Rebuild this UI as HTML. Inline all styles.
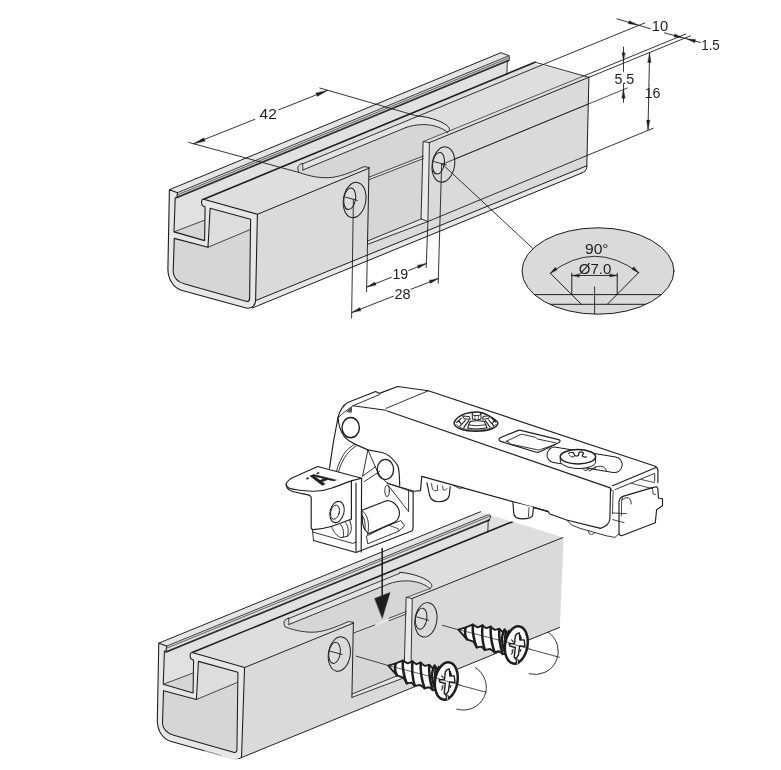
<!DOCTYPE html>
<html><head><meta charset="utf-8"><title>Hinge mounting</title>
<style>
html,body{margin:0;padding:0;background:#fff;}
body{width:781px;height:770px;overflow:hidden;font-family:"Liberation Sans",sans-serif;}
svg{display:block;filter:grayscale(1);}
text{font-family:"Liberation Sans",sans-serif;fill:#1d1d1b;}
</style></head><body>
<svg width="781" height="770" viewBox="0 0 781 770" stroke-linecap="round" stroke-linejoin="round">
<rect width="781" height="770" fill="#fff"/>
<g id="top">
<polygon points="169.4,189.7 500.9,52.7 509,55.7 177.5,192.7" fill="#e4e5e6" stroke="none" stroke-width="1" />
<polygon points="177.5,192.7 509,55.7 508.4,60.5 506.7,60.8 175.2,197.8 176.9,197.5" fill="#d9dadb" stroke="none" stroke-width="1" />
<polygon points="175.2,197.8 506.7,60.8 506.9,74.4 201.8,200.5 202.3,205.6 205.1,207 204.6,240.6 174,231.9" fill="#e0e1e2" stroke="none" stroke-width="1" />
<polygon points="174,231.9 204.8,220.1 204.6,240.6" fill="#d5d6d7" stroke="none" stroke-width="1" />
<polygon points="201.8,200.5 533.3,63.5 588.9,77.3 257.4,214.3" fill="#dddedf" stroke="none" stroke-width="1" />
<polygon points="257.4,214.3 588.9,77.3 586.8,167.1 585.5,170.6 581.8,173 259,305.3 255.6,300.6" fill="#d9dadb" stroke="none" stroke-width="1" />
<polygon points="255.8,300.5 586.8,165.8 585.5,170.6 581.8,173 259,305.3" fill="#e6e7e8" stroke="none" stroke-width="1" />
<path d="M299.1,172.5 C310,176.5 322,178.6 332,177.4 C343,176 354,171 364,166.6 L368.8,167.4 L367.5,241 L421.4,218.9 L423.5,141.5 L447.5,132.4 C449.8,131 450,129 448.6,127.2 C445,122.6 432,117 416.4,115.8 L302.3,163.4 C299.5,164 297.4,166.6 297.8,168.6 C298,170.4 298.4,171.6 299.1,172.5 Z" fill="#d5d6d7" stroke="none" stroke-width="1" />
<path d="M302.6,163.4 L416.4,115.8 C432,117 445,122.6 448.6,127.2 C450,129 449.8,131 447.5,132.4 C444,128.6 434,124.6 424,124.6 C416,124.6 410,126 406,127.5 L303,169.9 Z" fill="#e2e3e4" stroke="none" stroke-width="1" />
<polygon points="369.4,177 423.4,156 423.3,158.6 369.4,179.5" fill="#e4e5e6" stroke="none" stroke-width="1" />
<polygon points="367.5,241 421.4,218.9 427.9,221.5 367.5,244.4" fill="#e4e5e6" stroke="none" stroke-width="1" />
<polygon points="423.5,141.5 429.4,142.8 427.9,221.5 421.4,218.9" fill="#e8e9ea" stroke="#1d1d1b" stroke-width="0.9" />
<line x1="169.4" y1="189.7" x2="500.9" y2="52.7" stroke="#1d1d1b" stroke-width="1.0" />
<line x1="177.5" y1="192.7" x2="509" y2="55.7" stroke="#2a2a2a" stroke-width="0.9" />
<line x1="177.3" y1="194.9" x2="508.8" y2="57.9" stroke="#444" stroke-width="0.8" />
<line x1="176.9" y1="197.5" x2="508.4" y2="60.5" stroke="#1d1d1b" stroke-width="1.7" />
<line x1="175.2" y1="197.8" x2="506.7" y2="60.8" stroke="#555" stroke-width="0.6" />
<path d="M500.9,52.7 L509,55.7 L509.6,59.6 L507.3,62.2 L506.9,74.4" fill="none" stroke="#1d1d1b" stroke-width="0.9" />
<line x1="203.6" y1="199.2" x2="535.1" y2="62.2" stroke="#1d1d1b" stroke-width="1.6" />
<line x1="302.3" y1="164" x2="540.7" y2="65.5" stroke="#1d1d1b" stroke-width="0.9" />
<line x1="303" y1="169.9" x2="406" y2="127.5" stroke="#1d1d1b" stroke-width="0.9" />
<line x1="302.7" y1="163.6" x2="302.9" y2="170.2" stroke="#1d1d1b" stroke-width="0.8" />
<line x1="535.1" y1="62.2" x2="588.9" y2="77.3" stroke="#1d1d1b" stroke-width="0.9" />
<path d="M302.3,163.4 C299.5,164 297.4,166.6 297.8,168.6 C298,170.4 298.4,171.6 299.1,172.5 C310,176.5 322,178.6 332,177.4 C343,176 354,171 364,166.6 L368.8,167.4" fill="none" stroke="#1d1d1b" stroke-width="0.9" />
<path d="M416.4,115.8 C432,117 445,122.6 448.6,127.2 C450,129 449.8,131 447.5,132.4" fill="none" stroke="#1d1d1b" stroke-width="1.0" />
<path d="M406,127.5 C410,126 416,124.6 424,124.6 C434,124.6 444,128.6 447.5,132.4" fill="none" stroke="#1d1d1b" stroke-width="0.9" />
<line x1="257.4" y1="214.3" x2="369" y2="168.2" stroke="#1d1d1b" stroke-width="1.0" />
<line x1="429.4" y1="142.6" x2="588.9" y2="77.3" stroke="#1d1d1b" stroke-width="1.0" />
<line x1="423.5" y1="141.5" x2="585.6" y2="75.2" stroke="#333" stroke-width="0.8" />
<line x1="442.4" y1="164.2" x2="588" y2="104.1" stroke="#1d1d1b" stroke-width="0.7" />
<line x1="427.9" y1="221.5" x2="586.8" y2="155.6" stroke="#1d1d1b" stroke-width="0.9" />
<line x1="255.8" y1="300.5" x2="586.8" y2="165.8" stroke="#1d1d1b" stroke-width="1.0" />
<line x1="252.3" y1="308" x2="581.8" y2="173" stroke="#1d1d1b" stroke-width="1.0" />
<path d="M588.9,77.30000000000001 L586.8,167.1 C586.6,170 584.6,172.2 581.8,173" fill="none" stroke="#1d1d1b" stroke-width="1.0" />
<line x1="369" y1="167.5" x2="367.5" y2="244.4" stroke="#1d1d1b" stroke-width="1.0" />
<line x1="367.5" y1="241" x2="421.4" y2="218.9" stroke="#1d1d1b" stroke-width="0.9" />
<line x1="367.5" y1="244.4" x2="427.9" y2="221.5" stroke="#1d1d1b" stroke-width="0.9" />
<line x1="369.4" y1="177" x2="423.4" y2="156" stroke="#1d1d1b" stroke-width="0.8" />
<line x1="369.4" y1="179.5" x2="423.3" y2="158.6" stroke="#1d1d1b" stroke-width="0.8" />
<ellipse cx="354.6" cy="200" rx="11.2" ry="17.8" transform="rotate(9 354.6 200)" fill="#d9dadb" stroke="#1d1d1b" stroke-width="1"/>
<ellipse cx="349.7" cy="198.8" rx="5.8" ry="10.9" transform="rotate(9 349.7 198.8)" fill="#dcddde" stroke="#1d1d1b" stroke-width="1"/>
<line x1="345.2" y1="197.1" x2="357.5" y2="200.4" stroke="#1d1d1b" stroke-width="0.9" />
<ellipse cx="443.4" cy="164.5" rx="11.2" ry="17.8" transform="rotate(9 443.4 164.5)" fill="#d9dadb" stroke="#1d1d1b" stroke-width="1"/>
<ellipse cx="438.5" cy="163.3" rx="5.8" ry="10.9" transform="rotate(9 438.5 163.3)" fill="#dcddde" stroke="#1d1d1b" stroke-width="1"/>
<line x1="434" y1="161.6" x2="446.3" y2="164.9" stroke="#1d1d1b" stroke-width="0.9" />
<path d="M174.3,238.4 L208.0,247.3 L210.1,208.2 L250.6,219.2 L249.6,298.6 Q249.4,301.6 246.9,301.5 L184.8,284.0 C178.4,282.2 173.6,278 173.2,271.8 Z" fill="#d5d6d7" stroke="none" stroke-width="1" />
<polygon points="210.1,208.2 250.6,219.2 250.4,229.5 208,247.3" fill="#dcddde" stroke="none" stroke-width="1" />
<line x1="208" y1="247.3" x2="250.4" y2="229.5" stroke="#1d1d1b" stroke-width="0.8" />
<line x1="174" y1="231.9" x2="204.8" y2="220.1" stroke="#1d1d1b" stroke-width="0.8" />
<path d="M169.4,189.7 L177.5,192.7 L176.9,197.5 L175.2,197.8 L174.0,231.9 L204.6,240.6 L205.1,207.0 L202.3,205.6 C201.6,203.8 201.2,201.8 201.8,200.5 Q202.4,199 203.6,199.2 L257.4,214.3 L255.6,300.6 C255.6,305 252.4,308.6 247.1,308.3 L182.2,290.5 C173,288 168,279 167.9,269.0 Z M174.3,238.4 L208.0,247.3 L210.1,208.2 L250.6,219.2 L249.6,298.6 Q249.4,301.6 246.9,301.5 L184.8,284.0 C178.4,282.2 173.6,278 173.2,271.8 Z" fill="#e6e7e8" stroke="#1d1d1b" stroke-width="1.1" fill-rule="evenodd"/>
<line x1="188.7" y1="142.4" x2="299.1" y2="172.5" stroke="#1d1d1b" stroke-width="0.9" />
<line x1="319.8" y1="88" x2="416.4" y2="115.8" stroke="#1d1d1b" stroke-width="0.9" />
<line x1="193.7" y1="143.7" x2="254.9" y2="119.3" stroke="#1d1d1b" stroke-width="0.9" />
<line x1="278.8" y1="109.8" x2="327.3" y2="90.5" stroke="#1d1d1b" stroke-width="0.9" />
<polygon points="193.7,143.7 203.7,137.8 205.1,141.1" fill="#1d1d1b" stroke="#1d1d1b" stroke-width="0.3" />
<polygon points="327.3,90.5 317.3,96.4 315.9,93.1" fill="#1d1d1b" stroke="#1d1d1b" stroke-width="0.3" />
<text x="268.2" y="118.8" font-size="15.3" text-anchor="middle" textLength="17.2" lengthAdjust="spacingAndGlyphs" >42</text>
<line x1="540.7" y1="65.5" x2="644.8" y2="22.9" stroke="#1d1d1b" stroke-width="0.9" />
<line x1="585.6" y1="75.2" x2="685.7" y2="34" stroke="#1d1d1b" stroke-width="0.9" />
<line x1="588.9" y1="77.3" x2="690.5" y2="35.8" stroke="#1d1d1b" stroke-width="0.9" />
<line x1="617" y1="18.8" x2="650.2" y2="28.7" stroke="#1d1d1b" stroke-width="0.9" />
<polygon points="637.8,25 628.2,23.8 629.2,20.8" fill="#1d1d1b" stroke="#1d1d1b" stroke-width="0.3" />
<line x1="664.5" y1="32.8" x2="700.4" y2="42.5" stroke="#1d1d1b" stroke-width="0.9" />
<polygon points="682.6,37.7 674,37 674.8,33.9" fill="#1d1d1b" stroke="#1d1d1b" stroke-width="0.3" />
<polygon points="687,38.9 695.6,39.6 694.8,42.7" fill="#1d1d1b" stroke="#1d1d1b" stroke-width="0.3" />
<text x="659.9" y="30.9" font-size="15.2" text-anchor="middle" textLength="16.4" lengthAdjust="spacingAndGlyphs" >10</text>
<text x="710.5" y="50.2" font-size="15.2" text-anchor="middle" textLength="18.6" lengthAdjust="spacingAndGlyphs" >1.5</text>
<line x1="442.4" y1="164.2" x2="627.3" y2="88" stroke="#1d1d1b" stroke-width="0.8" />
<line x1="623.5" y1="47.1" x2="623.5" y2="71.4" stroke="#1d1d1b" stroke-width="0.9" />
<polygon points="623.5,60.8 621.9,52.8 625.1,52.8" fill="#1d1d1b" stroke="#1d1d1b" stroke-width="0.3" />
<line x1="623.5" y1="84" x2="623.5" y2="102.3" stroke="#1d1d1b" stroke-width="0.9" />
<polygon points="623.5,88.7 625.1,98.2 621.9,98.2" fill="#1d1d1b" stroke="#1d1d1b" stroke-width="0.3" />
<text x="624.3" y="83.6" font-size="15.2" text-anchor="middle" textLength="19.8" lengthAdjust="spacingAndGlyphs" >5.5</text>
<line x1="586.8" y1="155.6" x2="653.1" y2="128.3" stroke="#1d1d1b" stroke-width="0.9" />
<line x1="649.6" y1="53" x2="648" y2="129.6" stroke="#1d1d1b" stroke-width="0.9" />
<polygon points="649.6,53 651,62.5 647.8,62.5" fill="#1d1d1b" stroke="#1d1d1b" stroke-width="0.3" />
<polygon points="648,129.6 646.6,120.1 649.8,120.1" fill="#1d1d1b" stroke="#1d1d1b" stroke-width="0.3" />
<rect x="644" y="86" width="17" height="13" fill="#fff"/>
<line x1="649" y1="86" x2="648.6" y2="99" stroke="#1d1d1b" stroke-width="0.9" />
<text x="652.6" y="97.9" font-size="15.2" text-anchor="middle" textLength="15.8" lengthAdjust="spacingAndGlyphs" >16</text>
<line x1="353.4" y1="199.7" x2="351.6" y2="318.2" stroke="#1d1d1b" stroke-width="0.9" />
<line x1="367.5" y1="244.4" x2="366.6" y2="291.6" stroke="#1d1d1b" stroke-width="0.9" />
<line x1="427.9" y1="221.5" x2="426.2" y2="267.4" stroke="#1d1d1b" stroke-width="0.9" />
<line x1="441.6" y1="164.2" x2="438.2" y2="283.3" stroke="#1d1d1b" stroke-width="0.9" />
<line x1="367" y1="286.9" x2="391.4" y2="277.3" stroke="#1d1d1b" stroke-width="0.9" />
<line x1="408.6" y1="270.5" x2="426.2" y2="263.6" stroke="#1d1d1b" stroke-width="0.9" />
<polygon points="367,286.9 374.8,282.1 376,285.1" fill="#1d1d1b" stroke="#1d1d1b" stroke-width="0.3" />
<polygon points="426.2,263.6 418.4,268.4 417.2,265.4" fill="#1d1d1b" stroke="#1d1d1b" stroke-width="0.3" />
<text x="400.3" y="279.2" font-size="15.2" text-anchor="middle" textLength="15.8" lengthAdjust="spacingAndGlyphs" >19</text>
<line x1="352" y1="312.4" x2="393.4" y2="296.2" stroke="#1d1d1b" stroke-width="0.9" />
<line x1="411" y1="289.3" x2="438.2" y2="278.6" stroke="#1d1d1b" stroke-width="0.9" />
<polygon points="352,312.4 359.8,307.6 361,310.6" fill="#1d1d1b" stroke="#1d1d1b" stroke-width="0.3" />
<polygon points="438.2,278.6 430.4,283.4 429.2,280.4" fill="#1d1d1b" stroke="#1d1d1b" stroke-width="0.3" />
<text x="402.6" y="299.2" font-size="15.2" text-anchor="middle" textLength="16.2" lengthAdjust="spacingAndGlyphs" >28</text>
<line x1="442.4" y1="164.2" x2="533.4" y2="249" stroke="#1d1d1b" stroke-width="0.9" />
<ellipse cx="598" cy="271" rx="76" ry="43.2" fill="#d9dadb" stroke="#1d1d1b" stroke-width="1"/>
<clipPath id="cpe"><ellipse cx="598" cy="271" rx="76" ry="43.2"/></clipPath>
<g clip-path="url(#cpe)">
<line x1="520" y1="294.6" x2="680" y2="294.6" stroke="#1d1d1b" stroke-width="1.0" />
<line x1="520" y1="304.3" x2="680" y2="304.3" stroke="#1d1d1b" stroke-width="1.0" />
<line x1="594.6" y1="287" x2="594.6" y2="316" stroke="#1d1d1b" stroke-width="0.9" />
</g>
<line x1="550.3" y1="273.2" x2="581.4" y2="304.3" stroke="#1d1d1b" stroke-width="1.0" />
<line x1="638.6" y1="272.7" x2="607.3" y2="304.3" stroke="#1d1d1b" stroke-width="1.0" />
<line x1="571.8" y1="273.2" x2="571.8" y2="294.6" stroke="#1d1d1b" stroke-width="1.0" />
<line x1="617.2" y1="273.2" x2="617.2" y2="294.6" stroke="#1d1d1b" stroke-width="1.0" />
<line x1="571.8" y1="275.5" x2="617.2" y2="275.5" stroke="#1d1d1b" stroke-width="0.9" />
<polygon points="571.8,275.5 579.3,274 579.3,277" fill="#1d1d1b" stroke="#1d1d1b" stroke-width="0.3" />
<polygon points="617.2,275.5 609.7,277 609.7,274" fill="#1d1d1b" stroke="#1d1d1b" stroke-width="0.3" />
<path d="M550.3,273.2 Q594.4,239.4 638.6,272.7" fill="none" stroke="#1d1d1b" stroke-width="0.9" />
<polygon points="550.3,273.2 555.2,267.3 557.1,269.7" fill="#1d1d1b" stroke="#1d1d1b" stroke-width="0.3" />
<polygon points="638.6,272.7 631.8,269.2 633.7,266.8" fill="#1d1d1b" stroke="#1d1d1b" stroke-width="0.3" />
<text x="596.8" y="253.8" font-size="15.2" text-anchor="middle" textLength="23.6" lengthAdjust="spacingAndGlyphs" >90°</text>
<text x="595" y="273.9" font-size="15.2" text-anchor="middle" textLength="32.6" lengthAdjust="spacingAndGlyphs" >Ø7.0</text>
</g>
<clipPath id="cpb"><polygon points="130,340 130,100 499,40 499.8,53.5 584.6,79.4 580.8,171.9 574,340"/></clipPath>
<g id="bottom" transform="translate(-6.4,458.6) scale(0.975) matrix(1,0.0048,0,1,0,-1.2355)"><g clip-path="url(#cpb)">
<polygon points="169.4,189.7 520.8,44.5 528.9,47.5 177.5,192.7" fill="#e4e5e6" stroke="none" stroke-width="1" />
<polygon points="177.5,192.7 528.9,47.5 528.3,52.3 526.6,52.6 175.2,197.8 176.9,197.5" fill="#d9dadb" stroke="none" stroke-width="1" />
<polygon points="175.2,197.8 526.6,52.6 553.2,55.3 201.8,200.5 202.3,205.6 205.1,207 204.6,240.6 174,231.9" fill="#e0e1e2" stroke="none" stroke-width="1" />
<polygon points="174,231.9 204.8,220.1 204.6,240.6" fill="#d5d6d7" stroke="none" stroke-width="1" />
<polygon points="201.8,200.5 553.2,55.3 608.8,69.1 257.4,214.3" fill="#dddedf" stroke="none" stroke-width="1" />
<polygon points="257.4,214.3 608.8,69.1 606,161.1 254.2,306.7" fill="#d9dadb" stroke="none" stroke-width="1" />
<path d="M299.1,172.5 C310,176.5 322,178.6 332,177.4 C343,176 354,171 364,166.6 L368.8,167.4 L367.5,241 L421.4,218.9 L423.5,141.5 L447.5,132.4 C449.8,131 450,129 448.6,127.2 C445,122.6 432,117 416.4,115.8 L302.3,163.4 C299.5,164 297.4,166.6 297.8,168.6 C298,170.4 298.4,171.6 299.1,172.5 Z" fill="#d5d6d7" stroke="none" stroke-width="1" />
<path d="M302.6,163.4 L416.4,115.8 C432,117 445,122.6 448.6,127.2 C450,129 449.8,131 447.5,132.4 C444,128.6 434,124.6 424,124.6 C416,124.6 410,126 406,127.5 L303,169.9 Z" fill="#e2e3e4" stroke="none" stroke-width="1" />
<polygon points="369.4,177 423.4,156 423.3,158.6 369.4,179.5" fill="#e4e5e6" stroke="none" stroke-width="1" />
<polygon points="367.5,241 421.4,218.9 427.9,221.5 367.5,244.4" fill="#e4e5e6" stroke="none" stroke-width="1" />
<polygon points="423.5,141.5 429.4,142.8 427.9,221.5 421.4,218.9" fill="#e8e9ea" stroke="#1d1d1b" stroke-width="0.9" />
<line x1="169.4" y1="189.7" x2="500.9" y2="52.7" stroke="#1d1d1b" stroke-width="1.0" />
<line x1="177.5" y1="192.7" x2="509" y2="55.7" stroke="#2a2a2a" stroke-width="0.9" />
<line x1="177.3" y1="194.9" x2="508.8" y2="57.9" stroke="#444" stroke-width="0.8" />
<line x1="176.9" y1="198.7" x2="508.4" y2="61.7" stroke="#1d1d1b" stroke-width="1.7" />
<line x1="175.2" y1="199" x2="506.7" y2="62" stroke="#555" stroke-width="0.6" />
<path d="M500.9,52.7 L509,55.7 L509.6,59.6 L507.3,62.2 L506.9,74.4" fill="none" stroke="#1d1d1b" stroke-width="0.9" />
<line x1="203.6" y1="199.2" x2="535.1" y2="62.2" stroke="#1d1d1b" stroke-width="1.6" />
<line x1="302.3" y1="164" x2="416.4" y2="116.9" stroke="#1d1d1b" stroke-width="0.9" />
<line x1="303" y1="169.9" x2="406" y2="127.5" stroke="#1d1d1b" stroke-width="0.9" />
<line x1="302.7" y1="163.6" x2="302.9" y2="170.2" stroke="#1d1d1b" stroke-width="0.8" />
<path d="M302.3,163.4 C299.5,164 297.4,166.6 297.8,168.6 C298,170.4 298.4,171.6 299.1,172.5 C310,176.5 322,178.6 332,177.4 C343,176 354,171 364,166.6 L368.8,167.4" fill="none" stroke="#1d1d1b" stroke-width="0.9" />
<path d="M416.4,115.8 C432,117 445,122.6 448.6,127.2 C450,129 449.8,131 447.5,132.4" fill="none" stroke="#1d1d1b" stroke-width="1.0" />
<path d="M406,127.5 C410,126 416,124.6 424,124.6 C434,124.6 444,128.6 447.5,132.4" fill="none" stroke="#1d1d1b" stroke-width="0.9" />
<line x1="257.4" y1="214.3" x2="369" y2="168.2" stroke="#1d1d1b" stroke-width="1.0" />
<line x1="429.4" y1="142.6" x2="588.9" y2="77.3" stroke="#1d1d1b" stroke-width="1.0" />
<line x1="423.5" y1="141.5" x2="447.5" y2="132.4" stroke="#333" stroke-width="0.8" />
<line x1="254.2" y1="306.7" x2="584" y2="170.1" stroke="#1d1d1b" stroke-width="1.0" />
<line x1="369" y1="167.5" x2="367.5" y2="244.4" stroke="#1d1d1b" stroke-width="1.0" />
<line x1="367.5" y1="241" x2="421.4" y2="218.9" stroke="#1d1d1b" stroke-width="0.9" />
<line x1="367.5" y1="244.4" x2="427.9" y2="221.5" stroke="#1d1d1b" stroke-width="0.9" />
<line x1="369.6" y1="178.2" x2="391" y2="170" stroke="#1d1d1b" stroke-width="0.9" />
<line x1="405.6" y1="163" x2="423.4" y2="156" stroke="#1d1d1b" stroke-width="0.8" />
<line x1="405.6" y1="165.6" x2="423.3" y2="158.6" stroke="#1d1d1b" stroke-width="0.8" />
<ellipse cx="354.6" cy="200" rx="11.2" ry="17.8" transform="rotate(9 354.6 200)" fill="#d9dadb" stroke="#1d1d1b" stroke-width="1"/>
<ellipse cx="349.7" cy="198.8" rx="5.8" ry="10.9" transform="rotate(9 349.7 198.8)" fill="#dcddde" stroke="#1d1d1b" stroke-width="1"/>
<line x1="345.2" y1="197.1" x2="357.5" y2="200.4" stroke="#1d1d1b" stroke-width="0.9" />
<ellipse cx="443.4" cy="164.5" rx="11.2" ry="17.8" transform="rotate(9 443.4 164.5)" fill="#d9dadb" stroke="#1d1d1b" stroke-width="1"/>
<ellipse cx="438.5" cy="163.3" rx="5.8" ry="10.9" transform="rotate(9 438.5 163.3)" fill="#dcddde" stroke="#1d1d1b" stroke-width="1"/>
<line x1="434" y1="161.6" x2="446.3" y2="164.9" stroke="#1d1d1b" stroke-width="0.9" />
<path d="M174.3,238.4 L208.0,247.3 L210.1,208.2 L250.6,219.2 L249.6,298.6 Q249.4,301.6 246.9,301.5 L184.8,284.0 C178.4,282.2 173.6,278 173.2,271.8 Z" fill="#d5d6d7" stroke="none" stroke-width="1" />
<polygon points="210.1,208.2 250.6,219.2 250.4,229.5 208,247.3" fill="#dcddde" stroke="none" stroke-width="1" />
<line x1="208" y1="247.3" x2="250.4" y2="229.5" stroke="#1d1d1b" stroke-width="0.8" />
<line x1="174" y1="231.9" x2="204.8" y2="220.1" stroke="#1d1d1b" stroke-width="0.8" />
<path d="M169.4,189.7 L177.5,192.7 L176.9,197.5 L175.2,197.8 L174.0,231.9 L204.6,240.6 L205.1,207.0 L202.3,205.6 C201.6,203.8 201.2,201.8 201.8,200.5 Q202.4,199 203.6,199.2 L257.4,214.3 L254.3,305.6 C254.2,307.4 251.5,308.4 247.1,308.3 L182.2,290.5 C173,288 168,279 167.9,269.0 Z M174.3,238.4 L208.0,247.3 L210.1,208.2 L250.6,219.2 L249.6,298.6 Q249.4,301.6 246.9,301.5 L184.8,284.0 C178.4,282.2 173.6,278 173.2,271.8 Z" fill="#e6e7e8" stroke="#1d1d1b" stroke-width="1.1" fill-rule="evenodd"/>
</g></g>
<line x1="205" y1="751.6" x2="240.5" y2="760.6" stroke="#fff" stroke-width="2.2" opacity="0.55"/>
<line x1="222" y1="756" x2="241.5" y2="760.9" stroke="#fff" stroke-width="2.4" opacity="0.6"/>
<polygon points="329.5,468.1 333.4,442.1 338,417.5 341.9,408.4 347.7,402.5 375.6,391.5 379.5,393.4 397.6,386.5 428.3,390.8 655.3,466.2 657.9,470.8 657.9,498 662.5,498.7 662.5,505.8 656.6,509.7 655.3,522.7 621.6,535.7 612.5,537 589,534 576.6,527.5 568.5,520.4 547.9,511.4 530,506 421.8,476.4 420.5,490.6 413.1,492.1 413.1,527.1 411.8,531 356,552.5 313.5,540.5 311.2,527.5 311.2,497.7 306,494.4 290.4,490.5 286.5,482.7 293,477.5 317.7,466.5" fill="#fff" stroke="none" stroke-width="1" />
<path d="M338,417.5 Q339.5,411.8 341.9,408.4 Q344.4,404.4 347.7,402.5 L375.6,391.5 L379.5,393.4 L397.6,386.5 L428.3,390.8 L655.3,466.2 Q657.9,467.6 657.9,470.8 L657.9,482.5" fill="none" stroke="#1d1d1b" stroke-width="1.15" />
<path d="M339.3,416.8 Q342,413.4 345.8,411 L352.9,405.8 L379.5,394.6" fill="none" stroke="#1d1d1b" stroke-width="0.9" />
<path d="M352.9,405.8 L386,410.3 M387.3,411 L609.5,487.6 Q612,488.6 610.6,491.5" fill="none" stroke="#1d1d1b" stroke-width="1.15" />
<line x1="386" y1="408.4" x2="428.3" y2="390.8" stroke="#1d1d1b" stroke-width="0.9" />
<polygon points="347,411.6 351.6,407.6 351.4,412" fill="#555" stroke="#1d1d1b" stroke-width="0.6" />
<path d="M610.5,489 L609.9,518.8 Q609.4,525.6 600.5,528.4 L566.6,520 L550,514 L548.3,511.6 L530,506.4" fill="none" stroke="#1d1d1b" stroke-width="1.15" />
<path d="M613.1,490.4 L612.5,513.6" fill="none" stroke="#1d1d1b" stroke-width="0.8" />
<path d="M612.5,485.7 L656,467.5" fill="none" stroke="#1d1d1b" stroke-width="1.15" />
<path d="M615.1,489.6 L654.7,473.4 L654.7,481.2" fill="none" stroke="#1d1d1b" stroke-width="0.9" />
<path d="M388,483.5 L414,491.3 L420.5,490.6 L421.8,476.4 L547.9,511.4" fill="none" stroke="#1d1d1b" stroke-width="1.15" />
<path d="M566.6,520 L571.6,525 L579.9,528.3 L606.5,535.8 L614.8,537.4 L619.8,533.3" fill="none" stroke="#1d1d1b" stroke-width="0.9" />
<path d="M588.2,531.4 Q588.4,534.4 591.4,534.5 Q594.4,534.4 594.9,532.8" fill="none" stroke="#1d1d1b" stroke-width="0.8" />
<path d="M619,502 Q619.4,497.6 622.9,496.4 L652.4,487.6 L656.8,486.8 L657.9,489 L658.4,498 L662.5,498.7 L662.5,505.8 L656.6,509.7 L655.3,522.7 L621.6,535.7 Q619,535.6 619,533.1 Z" fill="#fff" stroke="#1d1d1b" stroke-width="1.15" />
<path d="M622.9,496.4 L621.6,500 L621.4,516" fill="none" stroke="#1d1d1b" stroke-width="0.8" />
<path d="M622.5,499.5 Q627.4,496 630,499.2 Q631.6,501.6 631.2,504" fill="none" stroke="#1d1d1b" stroke-width="0.9" />
<path d="M612.6,513.0 L626.4,513.6 M612.6,519.6 L624,522.6" fill="none" stroke="#1d1d1b" stroke-width="0.8" />
<path d="M652.4,487.6 L653.2,494 L655.6,494.6" fill="none" stroke="#1d1d1b" stroke-width="0.8" />
<path d="M631.6,483.4 L652.4,488.6 M641,479.4 L654.4,482.6" fill="none" stroke="#1d1d1b" stroke-width="0.8" />
<path d="M426.9,482.9 L429.6,495.5 Q431.5,501.7 438.5,501.7 Q447.6,501.6 449.3,495.5 L450.2,486.5" fill="#fff" stroke="#1d1d1b" stroke-width="1.15" />
<path d="M431.4,483.6 L432.6,489.4 Q434.5,491.6 437.6,490.6 L437.4,485.2 M442.6,486 L443.2,490 Q446,491 447,488.4" fill="none" stroke="#1d1d1b" stroke-width="0.8" />
<path d="M512.9,502.6 L513.8,513.4 Q514.4,518.8 521.9,518.8 Q531.6,518.8 532.6,515.5 L533.5,507.1" fill="#fff" stroke="#1d1d1b" stroke-width="1.15" />
<line x1="529" y1="507.6" x2="528.4" y2="516.8" stroke="#1d1d1b" stroke-width="0.8" />
<path d="M454,485.6 L459.6,488.6 L463.4,487.6" fill="none" stroke="#1d1d1b" stroke-width="0.8" />
<path d="M454,423 C455.5,419 460,415.5 465.3,413.7 C469,412.5 473,412 476,412 C480,412 484,413 487.3,415 C492,417.5 496.8,420 497.9,423 C497.5,428 488,431.2 476,431.2 C464,431.2 454.5,428 454,423 Z" fill="#fff" stroke="#1d1d1b" stroke-width="1.4" />
<path d="M456,424.4 C459,428.4 467,430 476,430 C485,430 493.6,428.4 496.2,424.2" fill="none" stroke="#1d1d1b" stroke-width="0.7" />
<path d="M472.2,414.2 L472.4,419.2 Q476.4,420.8 481,419.2 L481,414.2" fill="#fff" stroke="#1d1d1b" stroke-width="1.0" />
<ellipse cx="476.5" cy="413.9" rx="4.4" ry="1.7" fill="#fff" stroke="#1d1d1b" stroke-width="1.0"/>
<line x1="475" y1="415.8" x2="475" y2="419.6" stroke="#1d1d1b" stroke-width="0.7" />
<line x1="478.4" y1="415.8" x2="478.4" y2="419.6" stroke="#1d1d1b" stroke-width="0.7" />
<path d="M470,421.6 Q477,420 484.3,421.4 L487,427.8 Q477.4,430 467.6,428 Z" fill="#fff" stroke="#1d1d1b" stroke-width="1.1" />
<path d="M468.8,425 Q477.2,426.6 485.8,424.8" fill="none" stroke="#1d1d1b" stroke-width="0.9" />
<path d="M463,416 L469.4,416.6 L470.2,419.4 L464.4,418.8 Z" fill="#fff" stroke="#1d1d1b" stroke-width="1.0" />
<path d="M489,415.8 L483,416.4 L482.6,419.2 L488.4,418.6 Z" fill="#fff" stroke="#1d1d1b" stroke-width="1.0" />
<path d="M468.8,420.6 L463.8,427.6 M465.4,420.4 L459.8,426.2 M461.4,418.2 L456.6,422.4 M458.8,420.4 L460.6,423.4" fill="none" stroke="#1d1d1b" stroke-width="1.1" />
<path d="M485.4,420.6 L490,427.2 M488.6,420 L493.6,425.6 M491.4,417.8 L495.6,422 M494.2,420.4 L492.6,423.2" fill="none" stroke="#1d1d1b" stroke-width="1.1" />
<path d="M500.2,437.8 L517.6,430.6 Q519.6,429.8 521.8,430.6 L558.6,439.6 Q561.4,440.8 559,442.4 L540.6,451.6 Q538.2,452.8 535.4,452 L500.6,441.4 Q497.6,439.6 500.2,437.8 Z" fill="none" stroke="#1d1d1b" stroke-width="1.15" />
<path d="M506.4,441.2 L520.4,434.6 Q521.8,434 523.6,434.6 L535.6,437.4 L537.4,439 L555.6,442.8 Q557.2,443.6 555.6,444.4 L540.4,449.6 Q538.4,450.4 536.4,449.6 L509.2,443.8 L508.8,442.4 Z" fill="none" stroke="#1d1d1b" stroke-width="0.9" />
<rect x="546.6" y="452" width="76" height="15.6" rx="7.8" ry="7.8" transform="rotate(9.4 584.6 459.8)" fill="#fff" stroke="#1d1d1b" stroke-width="1"/>
<path d="M591,469.4 Q598,464.6 603.6,467 Q606.6,468.4 606.4,470.8" fill="none" stroke="#1d1d1b" stroke-width="0.9" />
<path d="M560.2,458.6 L560.4,462.4 Q566,468.6 580,468.6 Q594,467.6 595.6,462.6 L595.6,458.6" fill="#fff" stroke="#1d1d1b" stroke-width="1.0" />
<path d="M583,468.6 L585,470.8 L588.2,469.4 L589.6,471.2 L592.4,469 L594.6,469.6 L595.6,466.6" fill="none" stroke="#1d1d1b" stroke-width="0.9" />
<ellipse cx="577.9" cy="456.8" rx="17.7" ry="7.2" fill="#fff" stroke="#1d1d1b" stroke-width="1.5"/>
<path d="M568.6,453.6 Q570.2,451.6 573.4,452.6 L574.6,455.2 Q576.6,456.8 578.6,455.2 L579,452.6 Q581.6,451 583.6,453.2 L582.2,455.8 Q583.6,457.6 586.4,456.8" fill="none" stroke="#1d1d1b" stroke-width="1.2" />
<path d="M569.6,455.6 Q571.4,457.8 574,456.8" fill="none" stroke="#1d1d1b" stroke-width="1.0" />
<path d="M338,417.5 C338.4,424 340,431 344.5,436.9 C348,441 351,442.5 354.9,444.1 L367.9,449.9 L382.1,452.5 C388,454 393,458 397.7,465.5 C399.6,470 399.6,480 399.7,485.5" fill="none" stroke="#1d1d1b" stroke-width="1.15" />
<ellipse cx="350.7" cy="427.6" rx="8.7" ry="10.1" fill="#fff" stroke="#1d1d1b" stroke-width="1.4"/>
<ellipse cx="385.4" cy="469.5" rx="8.2" ry="10.1" fill="#fff" stroke="#1d1d1b" stroke-width="1.3"/>
<path d="M338,417.5 L333.4,442.1 L329.5,468.1" fill="none" stroke="#1d1d1b" stroke-width="1.15" />
<path d="M354.2,444.7 C348,448 344,453 341.9,457.7 C339,463 337.5,467 336.7,470.7" fill="none" stroke="#1d1d1b" stroke-width="0.9" />
<path d="M356,446 C350,450 346,455 343.8,459 C341,464 339.6,468 338.7,471.3" fill="none" stroke="#1d1d1b" stroke-width="0.9" />
<path d="M367.9,449.9 L362.6,476.2 M367.9,449.9 L377.4,471.4 M362.8,476 L375.8,466.6 M364.4,481.6 L379.6,471.4" fill="none" stroke="#1d1d1b" stroke-width="0.9" />
<path d="M377.4,471.4 C380,476 383,480 388,483.5" fill="none" stroke="#1d1d1b" stroke-width="0.9" />
<path d="M361.6,478.3 L361.2,552.0 M356,483 L356,551.6" fill="none" stroke="#1d1d1b" stroke-width="1.15" />
<path d="M313.5,540.5 L356,552.5 L411.8,531 Q413.1,530 413.1,527.1 L413.1,492.1" fill="none" stroke="#1d1d1b" stroke-width="1.15" />
<path d="M387.1,483 L413.1,492.1" fill="none" stroke="#1d1d1b" stroke-width="0.9" />
<path d="M388.4,485.6 L408.6,511.6 L408.6,490.8" fill="none" stroke="#1d1d1b" stroke-width="0.9" />
<ellipse cx="387.1" cy="490.8" rx="2.3" ry="5.8" fill="none" stroke="#1d1d1b" stroke-width="0.9"/>
<path d="M367.7,543.4 L366.4,536.2 L384.5,527.1 L400.8,520.6 L404.7,525.8 L398.8,531 Z" fill="#fff" stroke="#1d1d1b" stroke-width="0.9" />
<path d="M384.5,527.1 L388,525 L398,528.6 L398.6,531" fill="none" stroke="#1d1d1b" stroke-width="0.8" />
<path d="M361.8,510.3 L387.1,500.5 C392,500.4 397.4,504.4 399.2,510.8 C400,516 398.4,519.6 395,522 L369,533.6 C366,532 363.4,528 362.6,523 Z" fill="#fff" stroke="#1d1d1b" stroke-width="1.15" />
<path d="M361.8,510.6 C365.4,512.6 368,518 368.4,524 C368.6,528.4 368.4,531.6 367.4,534.6" fill="none" stroke="#1d1d1b" stroke-width="0.9" />
<path d="M362.4,515.6 C364.6,518.4 365.6,523.6 365,529" fill="none" stroke="#1d1d1b" stroke-width="0.9" />
<path d="M317.7,466.5 L361.8,478.2 L352,480.6 C345,483 338,486 332,488 C325,490.6 318,491.4 312.5,491.2 C303,490.8 294,490 289,488 C286.2,486.6 285.6,484.4 286.5,482.7 C287.8,480.4 290,478.8 293,477.5 Z" fill="#fff" stroke="#1d1d1b" stroke-width="1.15" />
<path d="M286.2,484.6 C286.6,487.6 288.4,489.6 290.4,490.5 C296,492.8 301,493.4 306,494.4 C309.4,495 311.2,496 311.2,497.7 L311.2,527.5 Q311.4,529.6 313.4,529.6 C320,529 326,528 332,526.2 C338.6,524.2 345,521.6 351.4,519.1 L351.4,480.8" fill="none" stroke="#1d1d1b" stroke-width="1.15" />
<path d="M312.5,530.1 L313.5,540.5 M312.5,532 L352.7,543.4 L356,542" fill="none" stroke="#1d1d1b" stroke-width="0.9" />
<ellipse cx="337.0" cy="512.0" rx="6.9" ry="10.8" transform="rotate(14 337 512)" fill="#fff" stroke="#1d1d1b" stroke-width="1.0"/>
<ellipse cx="335.0" cy="512.2" rx="4.3" ry="7.2" transform="rotate(14 335 512.2)" fill="#fff" stroke="#1d1d1b" stroke-width="0.9"/>
<path d="M331.6,527.0 C333.6,532 337,536.4 341,537.6 L347,536.4 C350.6,534.6 352,530 351,525 L349.6,520" fill="none" stroke="#1d1d1b" stroke-width="0.9" />
<path d="M340.6,524.4 C343,527 344.4,532.6 343.2,537.2 M345.6,522.6 C348.4,526 349,532 347.2,536.2" fill="none" stroke="#1d1d1b" stroke-width="0.9" />
<text transform="matrix(0.986,-0.361,1.158,0.493,321.6,485.4)" font-size="22" font-weight="bold" text-anchor="start" x="0" y="0" stroke="#1d1d1b" stroke-width="0.5">A</text>
<polygon points="306.2,478.4 308,477.4 309,478.2 307.2,479.2" fill="#1d1d1b" stroke="#1d1d1b" stroke-width="0.5" />
<polygon points="316.6,473.2 318.4,472.2 319.4,473 317.6,474" fill="#1d1d1b" stroke="#1d1d1b" stroke-width="0.5" />
<line x1="382.2" y1="548.4" x2="382.2" y2="596" stroke="#1d1d1b" stroke-width="1.5" />
<polygon points="374.8,598.4 390,592.6 382.3,618" fill="#1d1d1b" stroke="#1d1d1b" stroke-width="0.5" />
<line x1="442.4" y1="625.3" x2="458.7" y2="629.8" stroke="#1d1d1b" stroke-width="0.8" />
<line x1="529" y1="649" x2="559.6" y2="657.3" stroke="#1d1d1b" stroke-width="0.8" />
<line x1="356.1" y1="656.1" x2="388.6" y2="665.6" stroke="#1d1d1b" stroke-width="0.8" />
<line x1="459" y1="685" x2="486" y2="692.2" stroke="#1d1d1b" stroke-width="0.8" />
<path d="M548.3,632.3 A23.2,23.2 0 0 1 529.1,673.8" fill="none" stroke="#1d1d1b" stroke-width="0.9" />
<path d="M475.3,667.6 A22.9,22.9 0 0 1 456.8,709.1" fill="none" stroke="#1d1d1b" stroke-width="0.9" />
<g><polygon points="458.3,629.6 465,627.6 472.7,624.7 477.6,627.4 482.5,625.5 486.4,628.2 490.6,626.7 494.9,629.9 499.2,628.9 502.6,632 505.8,631.2 508,634 508.5,654.5 502.7,653.9 499.2,651.2 494.6,652.2 490.2,649 484.8,649.9 481.4,646.6 476.8,647.4 473.4,641.6 467,639.3" fill="#fff" stroke="#1d1d1b" stroke-width="1.9" />
<path d="M465.6,628 Q463.9,634.2 467,639.3" fill="none" stroke="#1d1d1b" stroke-width="2.5" />
<path d="M472.7,624.7 Q472.4,636.6 476.8,647.4" fill="none" stroke="#1d1d1b" stroke-width="2.5" />
<path d="M482.5,625.5 Q481.2,638.3 484.8,649.9" fill="none" stroke="#1d1d1b" stroke-width="2.5" />
<path d="M490.6,626.7 Q490.2,640.1 494.6,652.2" fill="none" stroke="#1d1d1b" stroke-width="2.5" />
<path d="M499.2,628.9 Q498.6,642 502.7,653.9" fill="none" stroke="#1d1d1b" stroke-width="2.5" />
<path d="M505.8,631.2 Q504.2,642.2 507.4,652" fill="none" stroke="#1d1d1b" stroke-width="2.5" />
<line x1="458.3" y1="629.6" x2="506" y2="641.9" stroke="#1d1d1b" stroke-width="0.7" />
<path d="M504.7,629.4 C502.6,633.6 501.8,637.6 502.1,640.4 C502.4,644.4 503,647.6 504.1,650.2" fill="none" stroke="#1d1d1b" stroke-width="2.4" />
<path d="M508.6,630.6 C506.8,635 506.4,641 506.8,645 C507.2,649 507.8,651.6 508.8,653.6" fill="none" stroke="#1d1d1b" stroke-width="1.6" />
<ellipse cx="516.3" cy="645" rx="11.2" ry="18.8" transform="rotate(9.5 516.3 645)" fill="#fff" stroke="#1d1d1b" stroke-width="2.5"/>
<polygon points="516.7,633.9 519.2,632.8 519.9,639.6 524.2,640 525,646.4 519.6,646 518.5,654.9 516,658.9 514.2,657.1 515.3,647.5 509.9,646 509.2,643.7 514.5,643.5 515.3,636" fill="#fff" stroke="#1d1d1b" stroke-width="1.4" />
<line x1="520.4" y1="635.3" x2="521" y2="640.5" stroke="#1d1d1b" stroke-width="1.1" />
<line x1="511.6" y1="639.8" x2="513.3" y2="641.8" stroke="#1d1d1b" stroke-width="1.1" />
<line x1="521" y1="649.5" x2="520.1" y2="651.5" stroke="#1d1d1b" stroke-width="1.1" />
<line x1="511.6" y1="654.1" x2="512.9" y2="651.5" stroke="#1d1d1b" stroke-width="1.1" />
<line x1="521.5" y1="637.6" x2="519.9" y2="640" stroke="#1d1d1b" stroke-width="1.1" />
<line x1="513.3" y1="649.4" x2="511.9" y2="651" stroke="#1d1d1b" stroke-width="1.1" />
<polygon points="515.7,660.4 517.9,659.8 518.9,664.6 516.7,665.2" fill="#fff" stroke="none" stroke-width="1" />
<line x1="515.8" y1="658.2" x2="517" y2="664.4" stroke="#1d1d1b" stroke-width="1.2" />
<line x1="517.9" y1="659.4" x2="518.9" y2="663.4" stroke="#1d1d1b" stroke-width="1.2" /></g>
<g transform="translate(-70,36)"><polygon points="458.3,629.6 465,627.6 472.7,624.7 477.6,627.4 482.5,625.5 486.4,628.2 490.6,626.7 494.9,629.9 499.2,628.9 502.6,632 505.8,631.2 508,634 508.5,654.5 502.7,653.9 499.2,651.2 494.6,652.2 490.2,649 484.8,649.9 481.4,646.6 476.8,647.4 473.4,641.6 467,639.3" fill="#fff" stroke="#1d1d1b" stroke-width="1.9" />
<path d="M465.6,628 Q463.9,634.2 467,639.3" fill="none" stroke="#1d1d1b" stroke-width="2.5" />
<path d="M472.7,624.7 Q472.4,636.6 476.8,647.4" fill="none" stroke="#1d1d1b" stroke-width="2.5" />
<path d="M482.5,625.5 Q481.2,638.3 484.8,649.9" fill="none" stroke="#1d1d1b" stroke-width="2.5" />
<path d="M490.6,626.7 Q490.2,640.1 494.6,652.2" fill="none" stroke="#1d1d1b" stroke-width="2.5" />
<path d="M499.2,628.9 Q498.6,642 502.7,653.9" fill="none" stroke="#1d1d1b" stroke-width="2.5" />
<path d="M505.8,631.2 Q504.2,642.2 507.4,652" fill="none" stroke="#1d1d1b" stroke-width="2.5" />
<line x1="458.3" y1="629.6" x2="506" y2="641.9" stroke="#1d1d1b" stroke-width="0.7" />
<path d="M504.7,629.4 C502.6,633.6 501.8,637.6 502.1,640.4 C502.4,644.4 503,647.6 504.1,650.2" fill="none" stroke="#1d1d1b" stroke-width="2.4" />
<path d="M508.6,630.6 C506.8,635 506.4,641 506.8,645 C507.2,649 507.8,651.6 508.8,653.6" fill="none" stroke="#1d1d1b" stroke-width="1.6" />
<ellipse cx="516.3" cy="645" rx="11.2" ry="18.8" transform="rotate(9.5 516.3 645)" fill="#fff" stroke="#1d1d1b" stroke-width="2.5"/>
<polygon points="516.7,633.9 519.2,632.8 519.9,639.6 524.2,640 525,646.4 519.6,646 518.5,654.9 516,658.9 514.2,657.1 515.3,647.5 509.9,646 509.2,643.7 514.5,643.5 515.3,636" fill="#fff" stroke="#1d1d1b" stroke-width="1.4" />
<line x1="520.4" y1="635.3" x2="521" y2="640.5" stroke="#1d1d1b" stroke-width="1.1" />
<line x1="511.6" y1="639.8" x2="513.3" y2="641.8" stroke="#1d1d1b" stroke-width="1.1" />
<line x1="521" y1="649.5" x2="520.1" y2="651.5" stroke="#1d1d1b" stroke-width="1.1" />
<line x1="511.6" y1="654.1" x2="512.9" y2="651.5" stroke="#1d1d1b" stroke-width="1.1" />
<line x1="521.5" y1="637.6" x2="519.9" y2="640" stroke="#1d1d1b" stroke-width="1.1" />
<line x1="513.3" y1="649.4" x2="511.9" y2="651" stroke="#1d1d1b" stroke-width="1.1" />
<polygon points="515.7,660.4 517.9,659.8 518.9,664.6 516.7,665.2" fill="#fff" stroke="none" stroke-width="1" />
<line x1="515.8" y1="658.2" x2="517" y2="664.4" stroke="#1d1d1b" stroke-width="1.2" />
<line x1="517.9" y1="659.4" x2="518.9" y2="663.4" stroke="#1d1d1b" stroke-width="1.2" /></g>
<line x1="506" y1="641.9" x2="530" y2="649.2" stroke="#1d1d1b" stroke-width="0.7" />
<line x1="436" y1="677.9" x2="460" y2="685.2" stroke="#1d1d1b" stroke-width="0.7" />
</svg>
</body></html>
